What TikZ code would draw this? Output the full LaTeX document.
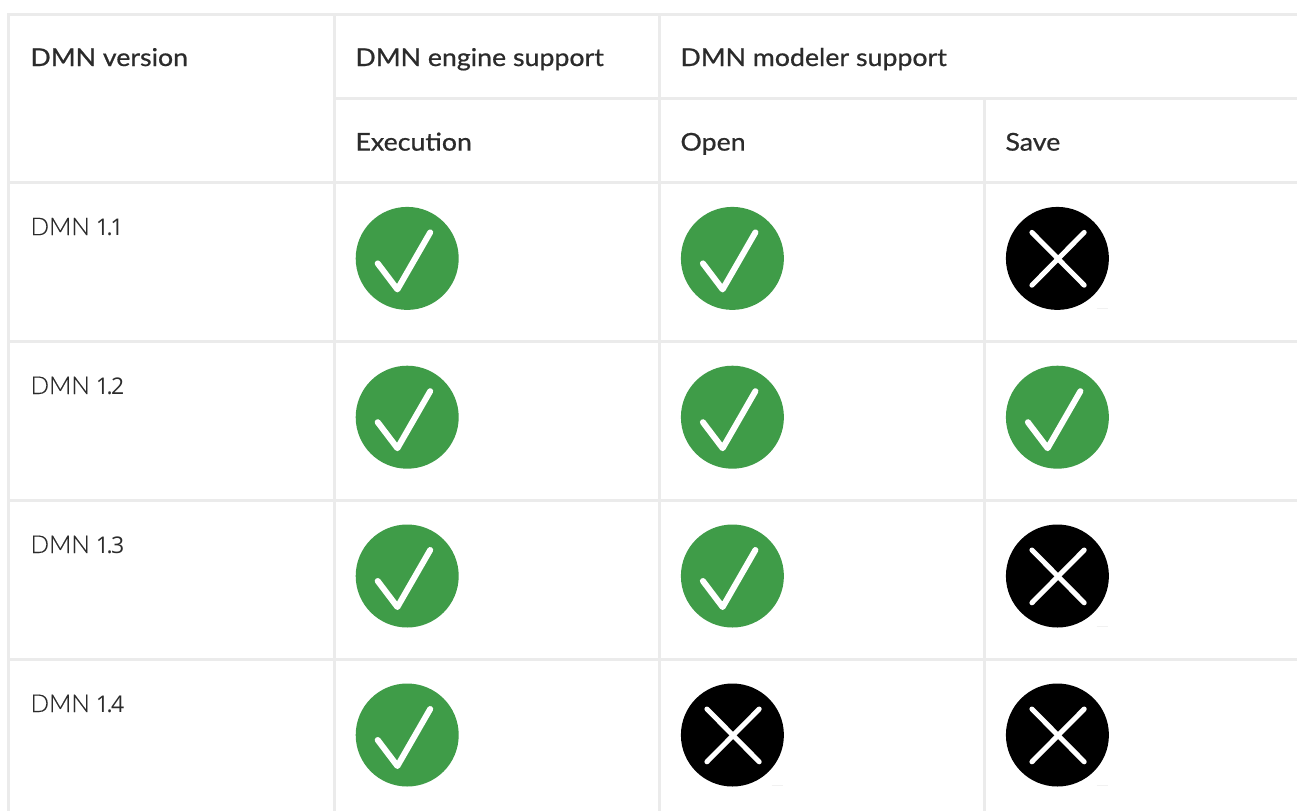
\documentclass[tikz,border=0pt]{standalone}
\usepackage{fontspec}
\setmainfont{Lato}
\newfontfamily\hdfont[FakeBold=0.7,FakeStretch=1.09]{Lato}
\newfontfamily\rowfont[FakeBold=0.35]{Lato Light}
\newfontfamily\numfont{Open Sans}
\definecolor{gridc}{HTML}{EBEBEB}
\definecolor{okc}{HTML}{3F9C48}
\definecolor{txtc}{HTML}{2B2B2B}
\newcommand{\ver}[2][-1.6pt]{DMN\kern6pt{\numfont\fontsize{23}{28}\selectfont 1\kern-2.4pt.\kern#1 #2}}
\tikzset{
  gridline/.style={draw=gridc,line width=3pt},
  headtext/.style={anchor=base west,inner sep=0pt,text=txtc,font=\hdfont\fontsize{24.5}{28}\selectfont},
  celltext/.style={anchor=base west,inner sep=0pt,text=txtc,font=\rowfont\fontsize{24.5}{28}\selectfont},
  okdisc/.style={circle,fill=okc,minimum size=103pt,inner sep=0pt},
  nodisc/.style={circle,fill=black,minimum size=103pt,inner sep=0pt},
  mark line/.style={draw=white,line width=6pt,line cap=round,line join=round},
  cross line/.style={draw=white,line width=5pt,line cap=round},
  smudge/.style={draw=gridc!70!white,line width=1pt}
}
\newcommand{\okicon}[3]{%
  \node[okdisc] (#1) at (#2,#3) {};
  \draw[mark line] ([shift={(-29.5,5)}]#1.center) -- ([shift={(-9.8,31)}]#1.center) -- ([shift={(23,-26)}]#1.center);
}
\newcommand{\noicon}[3]{%
  \node[nodisc] (#1) at (#2,#3) {};
  \draw[cross line] ([shift={(-25.5,-26)}]#1.center) -- ([shift={(26.8,26.8)}]#1.center);
  \draw[cross line] ([shift={(26.8,-26)}]#1.center) -- ([shift={(-25.5,26.8)}]#1.center);
  \draw[smudge] ([shift={(39.5,50)}]#1.center) -- ([shift={(51,50)}]#1.center);
}
\begin{document}
\begin{tikzpicture}[x=1pt,y=-1pt]
\useasboundingbox (0,0) rectangle (1297,811);
\fill[white] (0,0) rectangle (1297,811);
% grid
\draw[gridline] (7.1,14) -- (1297,14);
\draw[gridline] (334,98.4) -- (1297,98.4);
\foreach \yy in {182.4,341,500,659} \draw[gridline] (8.6,\yy) -- (1297,\yy);
\foreach \xx in {8.6,334,659} \draw[gridline] (\xx,14) -- (\xx,811);
\draw[gridline] (984,98.4) -- (984,811);
% headers
\node[headtext] (h1) at (30.3,66) {DMN version};
\node[headtext] (h2) at (355.3,66) {DMN engine support};
\node[headtext] (h3) at (680.3,66) {DMN modeler support};
\node[headtext] (h4) at (355.3,150.6) {Execution};
\node[headtext] (h5) at (680.3,150.6) {Open};
\node[headtext] (h6) at (1005.3,150.6) {Save};
% rows
\node[celltext] (r1) at (30.3,235.2) {\ver[-2.4pt]{1}};
\node[celltext] (r2) at (30.3,394) {\ver{2}};
\node[celltext] (r3) at (30.3,553) {\ver{3}};
\node[celltext] (r4) at (30.3,712) {\ver{4}};
% icons
\okicon{a1}{407.2}{258.4}
\okicon{b1}{732.4}{258.4}
\noicon{c1}{1057.4}{258.4}
\okicon{a2}{407.2}{417.2}
\okicon{b2}{732.4}{417.2}
\okicon{c2}{1057.4}{417.2}
\okicon{a3}{407.2}{576}
\okicon{b3}{732.4}{576}
\noicon{c3}{1057.4}{576}
\okicon{a4}{407.2}{735}
\noicon{b4}{732.4}{735}
\noicon{c4}{1057.4}{735}
\end{tikzpicture}
\end{document}
